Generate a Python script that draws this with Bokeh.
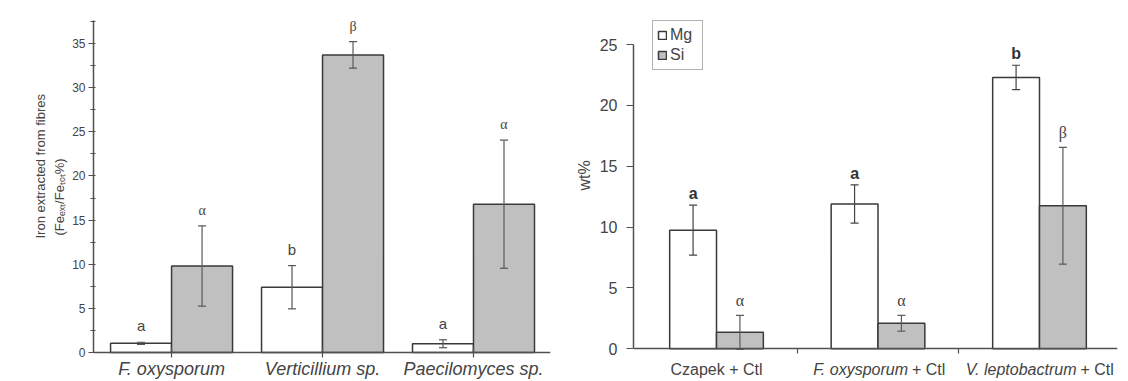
import numpy as np
from bokeh.plotting import figure
from bokeh.layouts import row
from bokeh.models import (ColumnDataSource, Whisker, Range1d, SingleIntervalTicker,
                          FixedTicker, Legend, LegendItem, TeeHead, Title)
from bokeh.embed import file_html
from bokeh.resources import INLINE
from bokeh.core.properties import value

# ---------------- data ----------------
left_categories = ["F. oxysporum", "Verticillium sp.", "Paecilomyces sp."]
left_white = [1.05, 7.4, 1.0]
left_white_err = [0.12, 2.45, 0.45]
left_grey = [9.8, 33.7, 16.8]
left_grey_err = [4.55, 1.5, 7.25]
left_white_letters = ["a", "b", "a"]
left_grey_letters = ["α", "β", "α"]
left_ylabel = ["Iron extracted from fibres", "(Feₑₓₜ/Feₜₒₜ%)"]

right_groups_italic = ["", "F. oxysporum", "V. leptobactrum"]
right_groups_plain = ["Czapek + Ctl", "+ Ctl", "+ Ctl"]
right_mg = [9.75, 11.9, 22.3]
right_mg_err = [2.05, 1.57, 1.0]
right_si = [1.35, 2.1, 11.75]
right_si_err = [1.4, 0.65, 4.8]
right_mg_letters = ["a", "a", "b"]
right_si_letters = ["α", "α", "β"]
right_ylabel = "wt%"

SANS = "Liberation Sans"
SERIF = "Liberation Serif"
AX = "#505050"
TXT = "#444444"
GREY = "#c0c0c0"
EDGE = "#3a3a3a"

H = 381


def style_axes(p):
    for ax in (p.xaxis[0], p.yaxis[0]):
        ax.axis_line_color = AX
        ax.axis_line_width = 1.5
        ax.major_tick_line_color = AX
        ax.major_tick_line_width = 1.2
        ax.minor_tick_line_color = AX
        ax.major_label_text_font = SANS
        ax.major_label_text_color = TXT
    p.grid.visible = False
    p.outline_line_color = None
    p.background_fill_color = "white"
    p.border_fill_color = "white"


def side_title(p, text, size, offset, standoff):
    t = Title(text=text, align="left", offset=offset, vertical_align="middle",
              text_font=SANS, text_font_size=size, text_font_style="normal",
              text_color=TXT, standoff=standoff)
    p.add_layout(t, "left")


def bars_with_errors(p, xs, vals, errs, width, fill, err_color):
    src = ColumnDataSource(dict(x=xs, top=vals,
                                upper=[v + e for v, e in zip(vals, errs)],
                                lower=[v - e for v, e in zip(vals, errs)]))
    r = p.vbar(x="x", top="top", width=width, source=src, fill_color=fill,
               line_color=EDGE, line_width=1.5)
    w = Whisker(base="x", upper="upper", lower="lower", source=src, dimension="height",
                line_color=err_color, line_width=1.2, level="overlay",
                upper_head=TeeHead(size=8, line_color=err_color, line_width=1.2),
                lower_head=TeeHead(size=8, line_color=err_color, line_width=1.2))
    p.add_layout(w)
    return r, src


# ---------------- left chart ----------------
L_top, L_bot = 15, 0
L_frame_h = H - L_top - L_bot
L_ymax = 37.6
L_pxu = 8.954
L_zero_px = L_ymax * L_pxu
L_ymin = -(L_frame_h - L_zero_px) / L_pxu

p1 = figure(width=568, height=H, x_range=Range1d(0.483, 3.51), y_range=Range1d(L_ymin, L_ymax),
            output_backend="svg", toolbar_location=None,
            min_border_left=93, min_border_right=18, min_border_top=L_top, min_border_bottom=L_bot)
style_axes(p1)

xc = np.arange(1, len(left_categories) + 1, dtype=float)
bw1 = 0.404
xw = list(xc - bw1 / 2)
xg = list(xc + bw1 / 2)
_, s1w = bars_with_errors(p1, xw, left_white, left_white_err, bw1, "white", "#555555")
_, s1g = bars_with_errors(p1, xg, left_grey, left_grey_err, bw1, GREY, "#5a5a5a")

p1.text(x=xw, y=[u + 8 / L_pxu for u in s1w.data["upper"]], text=left_white_letters,
        text_align="center", text_baseline="bottom", text_font=value(SANS),
        text_font_size="15px", text_color=TXT)
p1.text(x=xg, y=[u + 8 / L_pxu for u in s1g.data["upper"]], text=left_grey_letters,
        text_align="center", text_baseline="bottom", text_font=value(SERIF),
        text_font_size="14px", text_color=TXT)

p1.xaxis.fixed_location = 0
p1.xaxis.ticker = FixedTicker(ticks=list(xc))
p1.xaxis.major_label_overrides = {float(x): c for x, c in zip(xc, left_categories)}
p1.xaxis.major_label_text_font_size = "18px"
p1.xaxis.major_label_text_font_style = "italic"
p1.xaxis.major_label_standoff = 1
p1.xaxis.major_tick_in = 5
p1.xaxis.major_tick_out = 5
p1.xaxis.minor_tick_line_color = None

p1.yaxis.bounds = (0, L_ymax)
p1.yaxis.ticker = SingleIntervalTicker(interval=5, num_minor_ticks=2)
p1.yaxis.major_label_text_font_size = "12px"
p1.yaxis.major_tick_in = 0
p1.yaxis.major_tick_out = 5
p1.yaxis.minor_tick_in = 2
p1.yaxis.minor_tick_out = 3
p1.yaxis.major_label_standoff = 3

side_title(p1, left_ylabel[1], "13px", 146, 4)
side_title(p1, left_ylabel[0], "13px", 143, 0)

# ---------------- right chart ----------------
R_top, R_bot = 20, 0
R_frame_h = H - R_top - R_bot
R_pxu = 12.17
R_axis_max = 25
R_zero_px = 328.3          # zero line below frame top
R_ymax = R_zero_px / R_pxu
R_ymin = -(R_frame_h - R_zero_px) / R_pxu

p2 = figure(width=560, height=H, x_range=Range1d(0.486, 3.483), y_range=Range1d(R_ymin, R_ymax),
            output_backend="svg", toolbar_location=None,
            min_border_left=65, min_border_right=11, min_border_top=R_top, min_border_bottom=R_bot)
style_axes(p2)

xc2 = np.arange(1, len(right_mg) + 1, dtype=float)
bw2 = 0.29
xm = list(xc2 - bw2 / 2)
xs = list(xc2 + bw2 / 2)
r_mg, s2m = bars_with_errors(p2, xm, right_mg, right_mg_err, bw2, "white", "#444444")
r_si, s2s = bars_with_errors(p2, xs, right_si, right_si_err, bw2, GREY, "#5a5a5a")

p2.text(x=xm, y=[u + 3 / R_pxu for u in s2m.data["upper"]], text=right_mg_letters,
        text_align="center", text_baseline="bottom", text_font=value(SANS),
        text_font_size="16px", text_font_style="bold", text_color="#333333")
p2.text(x=xs, y=[u + 6 / R_pxu for u in s2s.data["upper"]], text=right_si_letters,
        text_align="center", text_baseline="bottom", text_font=value(SERIF),
        text_font_size="16px", text_color=TXT)

# category labels with mixed italic / plain text
split_offsets = [0, 30, 37]
lab_y = -12 / R_pxu
it_idx = [i for i in range(len(xc2)) if right_groups_italic[i]]
pl_idx = [i for i in range(len(xc2)) if right_groups_italic[i] == ""]
p2.text(x=[xc2[i] for i in it_idx], y=[lab_y] * len(it_idx),
        text=[right_groups_italic[i] for i in it_idx],
        x_offset=[split_offsets[i] for i in it_idx],
        text_align="right", text_baseline="top", text_font=value(SANS),
        text_font_style="italic", text_font_size="16px", text_color=TXT)
p2.text(x=[xc2[i] for i in it_idx], y=[lab_y] * len(it_idx),
        text=[right_groups_plain[i] for i in it_idx],
        x_offset=[split_offsets[i] + 4 for i in it_idx],
        text_align="left", text_baseline="top", text_font=value(SANS),
        text_font_size="16px", text_color=TXT)
p2.text(x=[xc2[i] for i in pl_idx], y=[lab_y] * len(pl_idx),
        text=[right_groups_plain[i] for i in pl_idx],
        text_align="center", text_baseline="top", text_font=value(SANS),
        text_font_size="16px", text_color=TXT)

bounds_ticks = list(xc2[:-1] + 0.5)
p2.xaxis.fixed_location = 0
p2.xaxis.ticker = FixedTicker(ticks=bounds_ticks)
p2.xaxis.major_label_overrides = {float(t): "" for t in bounds_ticks}
p2.xaxis.major_tick_in = 0
p2.xaxis.major_tick_out = 5
p2.xaxis.minor_tick_line_color = None

p2.yaxis.bounds = (0, R_axis_max)
p2.yaxis.ticker = SingleIntervalTicker(interval=5, num_minor_ticks=0)
p2.yaxis.minor_tick_line_color = None
p2.yaxis.major_label_text_font_size = "16px"
p2.yaxis.major_tick_in = 0
p2.yaxis.major_tick_out = 7
p2.yaxis.major_label_standoff = 9

side_title(p2, right_ylabel, "16px", 191, 6)

legend = Legend(items=[LegendItem(label="Mg", renderers=[r_mg]),
                       LegendItem(label="Si", renderers=[r_si])],
                location=(19, R_frame_h - 2 - 48))
legend.glyph_width = 10
legend.glyph_height = 10
legend.label_text_font = SANS
legend.label_text_font_size = "16px"
legend.label_text_color = TXT
legend.label_height = 20
legend.label_width = 28
legend.label_standoff = 3
legend.padding = 4
legend.spacing = 0
legend.margin = 0
legend.border_line_color = "#666666"
legend.border_line_width = 1
p2.add_layout(legend)

layout = row(p1, p2)
open("out.html", "w").write(file_html(layout, INLINE))
